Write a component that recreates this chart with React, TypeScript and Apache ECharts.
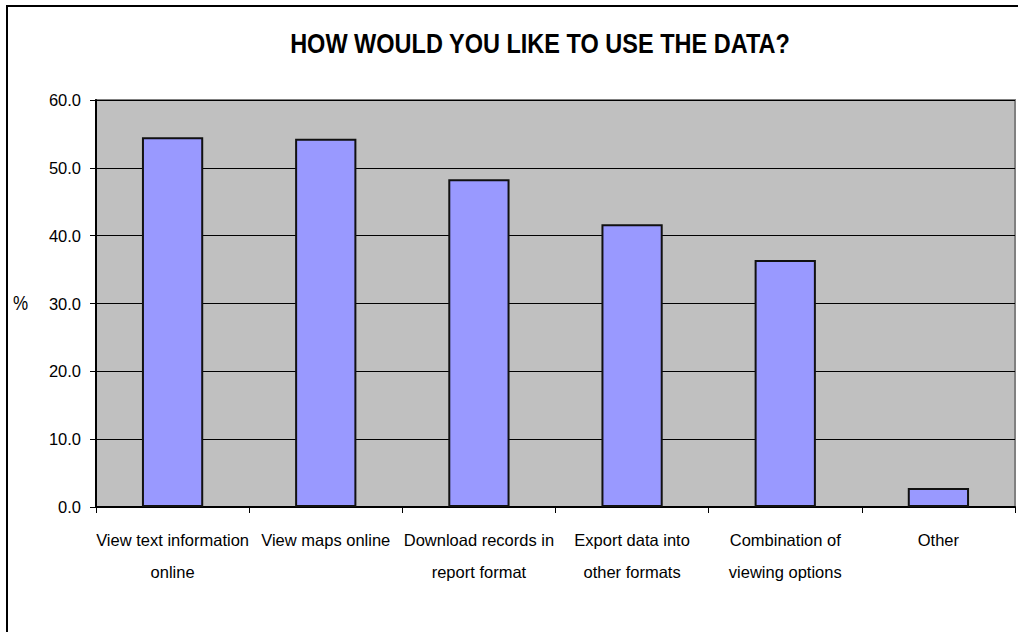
import React, { useEffect, useRef } from "react";
import * as echarts from "echarts";

const categories = [
  "View text information\nonline",
  "View maps online",
  "Download records in\nreport format",
  "Export data into\nother formats",
  "Combination of\nviewing options",
  "Other",
];
const values = [54.5, 54.3, 48.3, 41.7, 36.4, 2.8];
const yTicks = [0, 10, 20, 30, 40, 50, 60];
const titleText = "HOW WOULD YOU LIKE TO USE THE DATA?";
const yName = "%";

const FONT = "'Liberation Sans', Arial, sans-serif";

export default function App() {
  const ref = useRef<HTMLDivElement>(null);
  useEffect(() => {
    document.body.style.margin = "0";
    const chart = echarts.init(ref.current!, null, { renderer: "svg" });
    chart.setOption({
      animation: false,
      backgroundColor: "#ffffff",
      graphic: [
        {
          type: "rect",
          shape: { x: 7, y: 6, width: 1100, height: 700 },
          style: { fill: "none", stroke: "#000", lineWidth: 2 },
          silent: true,
        },
        {
          type: "text",
          x: 540,
          y: 43,
          scaleX: 0.84,
          style: {
            text: titleText,
            fontFamily: FONT,
            fontSize: 28,
            fontWeight: "bold",
            fill: "#000",
            textAlign: "center",
            verticalAlign: "middle",
          },
        },
        {
          type: "text",
          x: 13,
          y: 303,
          scaleX: 0.85,
          style: {
            text: yName,
            fontFamily: FONT,
            fontSize: 20,
            fill: "#000",
            verticalAlign: "middle",
          },
        },
      ],
      grid: {
        left: 96,
        right: 3,
        top: 100,
        bottom: 125,
        show: true,
        backgroundColor: "#c0c0c0",
        borderColor: "#808080",
        borderWidth: 2,
      },
      xAxis: {
        type: "category",
        data: categories,
        axisLine: { show: true, lineStyle: { color: "#000", width: 2 } },
        axisTick: { show: true, length: 6, lineStyle: { color: "#000" } },
        axisLabel: {
          interval: 0,
          margin: 17,
          fontFamily: FONT,
          fontSize: 16.5,
          lineHeight: 32,
          color: "#000",
        },
      },
      yAxis: {
        type: "value",
        min: 0,
        max: 60,
        interval: 10,
        axisLine: { show: true, lineStyle: { color: "#000", width: 2 } },
        axisTick: { show: true, length: 6, lineStyle: { color: "#000" } },
        axisLabel: {
          margin: 15,
          fontFamily: FONT,
          fontSize: 16.5,
          color: "#000",
          formatter: (v: number) => (yTicks.includes(v) ? v.toFixed(1) : ""),
        },
        splitLine: { show: true, lineStyle: { color: "#000", width: 1 } },
      },
      series: [
        {
          type: "bar",
          data: values,
          barWidth: "40%",
          itemStyle: { color: "#9999ff", borderColor: "#111", borderWidth: 2 },
        },
      ],
    });
    return () => chart.dispose();
  }, []);
  return <div ref={ref} style={{ width: 1018, height: 632 }} />;
}
